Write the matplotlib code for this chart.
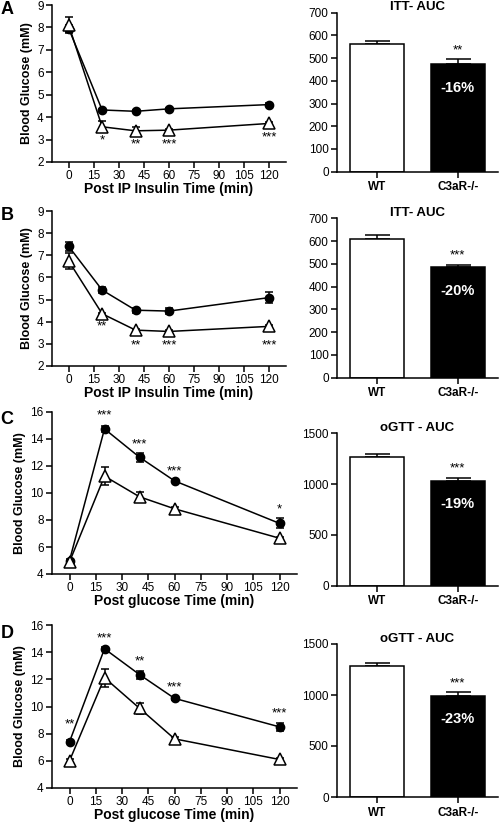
"""plot.py: glucose / insulin tolerance curves with AUC bars"""
import matplotlib
matplotlib.use("Agg")
import matplotlib.pyplot as plt

plt.rcParams['font.family'] = ['Liberation Sans', 'DejaVu Sans']

W, H = 499, 823
TIME = [0, 20, 40, 60, 120]
GROUPS = ['WT', 'C3aR-/-']

# panel A - ITT
A_WT = [7.95, 4.32, 4.26, 4.37, 4.56]
A_WT_ERR = [0.15, 0.05, 0.05, 0.05, 0.05]
A_KO = [8.1, 3.57, 3.39, 3.42, 3.72]
A_KO_ERR = [0.35, 0.24, 0.18, 0.05, 0.05]
A_STARS = ['*', '**', '***', '***']
A_STAR_X = [20, 40, 60, 120]
A_STAR_Y = [2.95, 2.8, 2.8, 3.1]
A_AUC = [563, 472]
A_AUC_ERR = [12, 22]

# panel B - ITT
B_WT = [7.4, 5.43, 4.52, 4.48, 5.09]
B_WT_ERR = [0.2, 0.15, 0.12, 0.12, 0.25]
B_KO = [6.74, 4.36, 3.62, 3.56, 3.79]
B_KO_ERR = [0.35, 0.05, 0.05, 0.05, 0.05]
B_STARS = ['**', '**', '***', '***']
B_STAR_X = [20, 40, 60, 120]
B_STAR_Y = [3.8, 2.95, 2.95, 2.95]
B_AUC = [607, 487]
B_AUC_ERR = [18, 8]

# panel C - oGTT
C_WT = [5.0, 14.75, 12.65, 10.9, 7.75]
C_WT_ERR = [0.1, 0.2, 0.32, 0.1, 0.37]
C_KO = [4.9, 11.25, 9.72, 8.83, 6.65]
C_KO_ERR = [0.1, 0.68, 0.33, 0.1, 0.1]
C_STARS = ['***', '***', '***', '*']
C_STAR_X = [20, 40, 60, 120]
C_STAR_Y = [15.75, 13.6, 11.6, 8.8]
C_AUC = [1265, 1031]
C_AUC_ERR = [28, 32]

# panel D - oGTT
D_WT = [7.4, 14.25, 12.35, 10.6, 8.5]
D_WT_ERR = [0.1, 0.1, 0.3, 0.1, 0.3]
D_KO = [6.0, 12.12, 9.87, 7.62, 6.1]
D_KO_ERR = [0.1, 0.65, 0.42, 0.1, 0.1]
D_STARS = ['**', '***', '**', '***', '***']
D_STAR_X = [0, 20, 40, 60, 120]
D_STAR_Y = [8.65, 15.0, 13.35, 11.4, 9.5]
D_AUC = [1280, 993]
D_AUC_ERR = [30, 33]

LETTERS = ['A', 'B', 'C', 'D']
PCT = ['-16%', '-20%', '-19%', '-23%']
AUC_STARS = ['**', '***', '***', '***']
AUC_TITLES = ['ITT- AUC', 'ITT- AUC', 'oGTT - AUC', 'oGTT - AUC']
XLABELS = ['Post IP Insulin Time (min)', 'Post IP Insulin Time (min)',
           'Post glucose Time (min)', 'Post glucose Time (min)']

# pixel boxes (left, top, right, bottom)
LEFT_BOX = [(52, 5, 286, 162), (52, 211, 286, 366),
            (52, 412, 297, 574), (52, 625, 297, 788)]
RIGHT_BOX = [(337, 12.7, 498, 171.7), (337, 218.3, 498, 377.7),
             (337, 433.3, 498, 585.7), (337, 644, 498, 797)]
LETTER_Y = [9, 216, 419, 634]


def add_axes(fig, box):
    l, t, r, b = box
    return fig.add_axes([l / W, 1 - b / H, (r - l) / W, (b - t) / H])


def style(ax):
    for s in ['top', 'right']:
        ax.spines[s].set_visible(False)
    for s in ['left', 'bottom']:
        ax.spines[s].set_linewidth(1.1)
    ax.tick_params(direction='out', length=4, width=1.1, labelsize=8.5, pad=2)


def curve_panel(ax, wt, wt_err, ko, ko_err, stars, sx, sy, ylim, yticks, xlabel):
    ax.errorbar(TIME, wt, yerr=wt_err, color='black', lw=1.1, marker='o',
                markersize=6, capsize=3, elinewidth=1.1, capthick=1.1, zorder=3)
    ax.errorbar(TIME, ko, yerr=ko_err, color='black', lw=1.1, marker='^',
                markersize=8, markerfacecolor='white', markeredgewidth=1.1,
                capsize=3, elinewidth=1.1, capthick=1.1, zorder=3)
    for s, x, y in zip(stars, sx, sy):
        ax.text(x, y, s, ha='center', va='center', fontsize=9.5)
    ax.set_xlim(-10, 130)
    ax.set_xticks(range(0, 121, 15))
    ax.set_ylim(*ylim)
    ax.set_yticks(yticks)
    ax.set_ylabel('Blood Glucose (mM)', fontsize=9, fontweight='bold', labelpad=3)
    ax.set_xlabel(xlabel, fontsize=10, fontweight='bold', labelpad=0)
    style(ax)
    ax.tick_params(axis='x', pad=1.5)


def bar_panel(ax, auc, err, title, pct, star, ylim, yticks):
    ax.bar([0, 1], auc, width=0.675, color=['white', 'black'],
           edgecolor='black', linewidth=1.1, zorder=2)
    ax.errorbar([0, 1], auc, yerr=[[0, 0], err], fmt='none', ecolor='black',
                elinewidth=1.1, capsize=9, capthick=1.1, zorder=1)
    top = ylim[1]
    ax.text(1, auc[1] + err[1] + 0.06 * top, star, ha='center', va='center', fontsize=9.5)
    ax.text(1, auc[1] - 0.15 * top, pct, ha='center', va='center',
            color='white', fontsize=10.5, fontweight='bold')
    ax.set_xlim(-0.5, 1.5)
    ax.set_xticks([0, 1])
    ax.set_xticklabels(GROUPS, fontsize=8.5, fontweight='bold')
    ax.set_ylim(*ylim)
    ax.set_yticks(yticks)
    style(ax)
    ax.tick_params(axis='x', labelsize=8.5, pad=3)
    ax.text(0.5, 0.995, title, transform=ax.transAxes, ha='center', va='bottom',
            fontsize=9.5, fontweight='bold')


fig = plt.figure(figsize=(W / 100, H / 100), dpi=100)

curves = [
    (A_WT, A_WT_ERR, A_KO, A_KO_ERR, A_STARS, A_STAR_X, A_STAR_Y),
    (B_WT, B_WT_ERR, B_KO, B_KO_ERR, B_STARS, B_STAR_X, B_STAR_Y),
    (C_WT, C_WT_ERR, C_KO, C_KO_ERR, C_STARS, C_STAR_X, C_STAR_Y),
    (D_WT, D_WT_ERR, D_KO, D_KO_ERR, D_STARS, D_STAR_X, D_STAR_Y),
]
aucs = [(A_AUC, A_AUC_ERR), (B_AUC, B_AUC_ERR), (C_AUC, C_AUC_ERR), (D_AUC, D_AUC_ERR)]

for i in range(4):
    itt = i < 2
    ylim = (2, 9) if itt else (4, 16)
    yticks = range(2, 10) if itt else range(4, 17, 2)
    ax = add_axes(fig, LEFT_BOX[i])
    curve_panel(ax, *curves[i], ylim, yticks, XLABELS[i])

    bylim = (0, 700) if itt else (0, 1500)
    byticks = range(0, 701, 100) if itt else range(0, 1501, 500)
    bx = add_axes(fig, RIGHT_BOX[i])
    bar_panel(bx, aucs[i][0], aucs[i][1], AUC_TITLES[i], PCT[i], AUC_STARS[i], bylim, byticks)

    fig.text(7 / W, 1 - LETTER_Y[i] / H, LETTERS[i], ha='center', va='center',
             fontsize=13, fontweight='bold')

fig.savefig('out.png', dpi=100)
